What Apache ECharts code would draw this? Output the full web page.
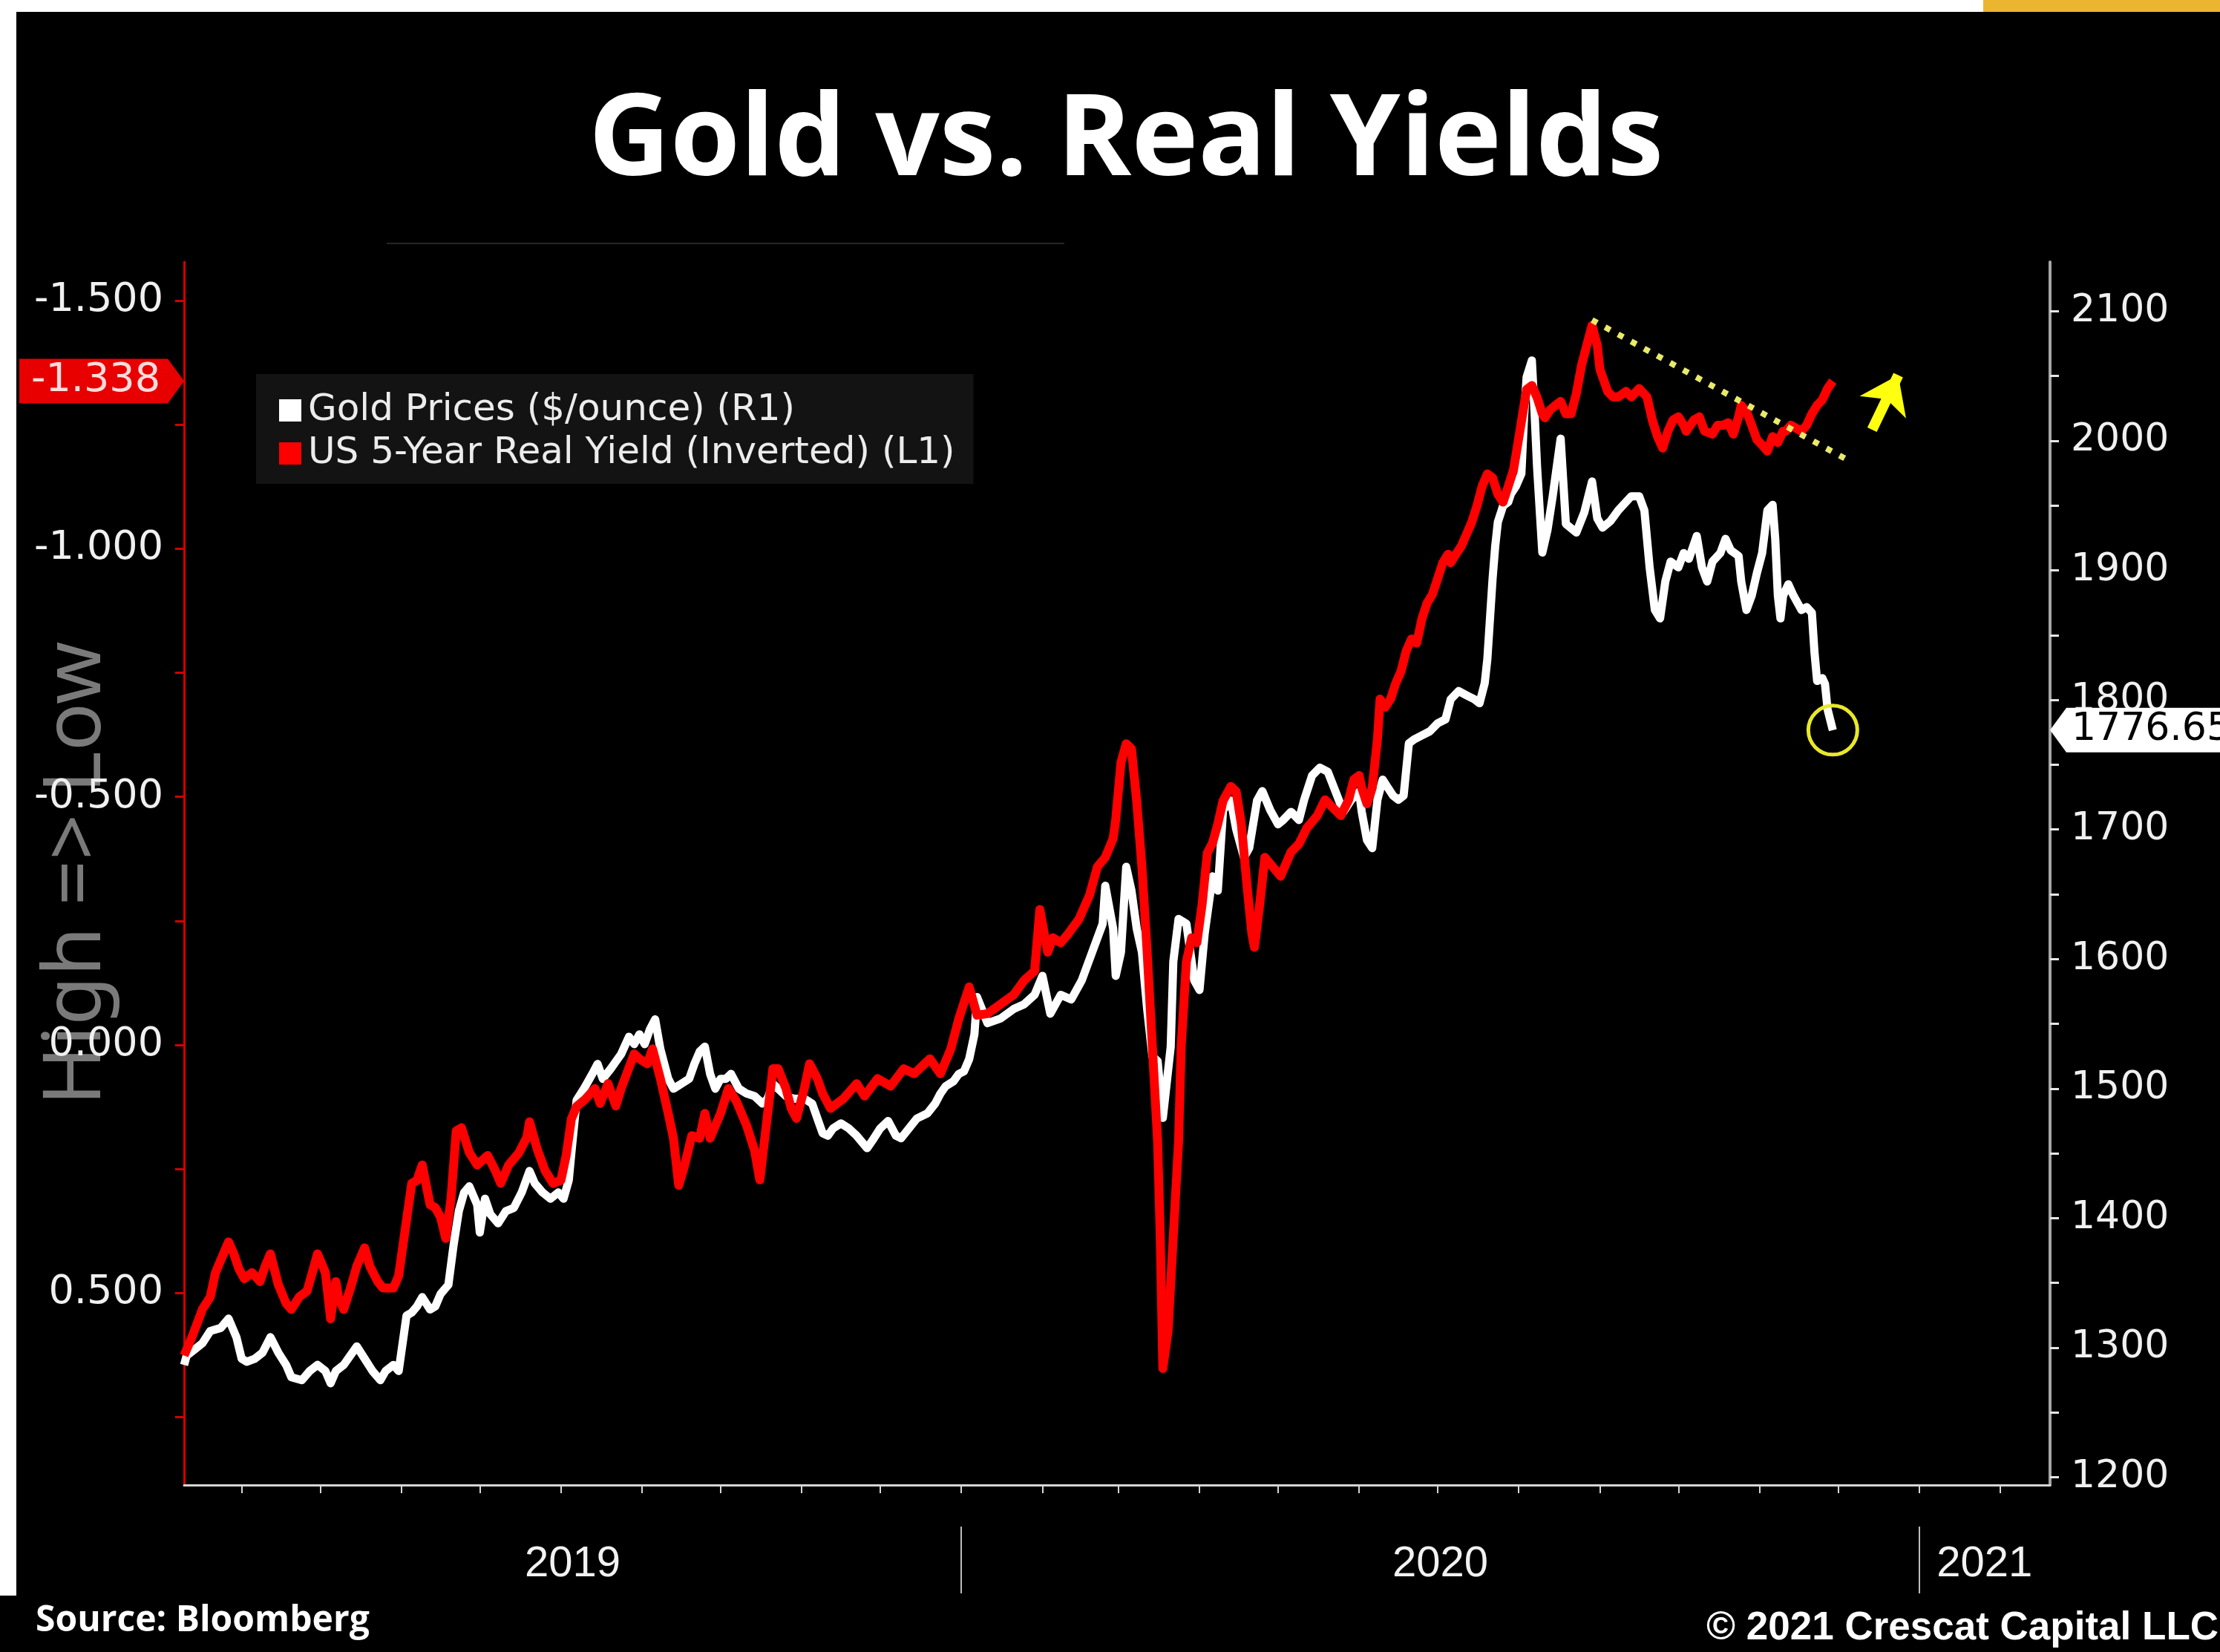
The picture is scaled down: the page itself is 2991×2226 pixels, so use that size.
<!DOCTYPE html>
<html><head><meta charset="utf-8">
<script src="https://cdn.jsdelivr.net/npm/echarts@6/dist/echarts.min.js"></script>
<style>html,body{margin:0;padding:0;background:#000;}#c{width:2991px;height:2226px;}</style>
</head><body><div id="c"></div>
<script>
// ---------------- DATA ----------------
const goldDates = [
'2019-03-10','2019-03-11','2019-03-14','2019-03-17','2019-03-20','2019-03-24','2019-03-27','2019-03-30','2019-04-01','2019-04-03',
'2019-04-06','2019-04-09','2019-04-12','2019-04-15','2019-04-18','2019-04-20','2019-04-24','2019-04-27','2019-04-30','2019-05-03',
'2019-05-05','2019-05-07','2019-05-10','2019-05-15','2019-05-18','2019-05-21','2019-05-24','2019-05-26','2019-05-29','2019-05-31',
'2019-06-03','2019-06-05','2019-06-07','2019-06-09','2019-06-12','2019-06-14','2019-06-16','2019-06-19','2019-06-21','2019-06-23',
'2019-06-25','2019-06-27','2019-06-30','2019-07-01','2019-07-03','2019-07-05','2019-07-08','2019-07-11','2019-07-14','2019-07-17',
'2019-07-20','2019-07-22','2019-07-25','2019-07-28','2019-07-31','2019-08-02','2019-08-04','2019-08-05','2019-08-07','2019-08-10',
'2019-08-13','2019-08-15','2019-08-17','2019-08-20','2019-08-24','2019-08-27','2019-08-29','2019-08-31','2019-09-02','2019-09-04',
'2019-09-06','2019-09-08','2019-09-11','2019-09-13','2019-09-16','2019-09-19','2019-09-21','2019-09-23','2019-09-25','2019-09-27',
'2019-09-29','2019-10-01','2019-10-03','2019-10-05','2019-10-08','2019-10-11','2019-10-14','2019-10-17','2019-10-19','2019-10-21',
'2019-10-23','2019-10-26','2019-10-29','2019-11-02','2019-11-05','2019-11-07','2019-11-09','2019-11-11','2019-11-13','2019-11-16',
'2019-11-19','2019-11-22','2019-11-26','2019-11-28','2019-12-01','2019-12-04','2019-12-07','2019-12-09','2019-12-12','2019-12-15',
'2019-12-19','2019-12-22','2019-12-24','2019-12-26','2019-12-29','2019-12-31','2020-01-02','2020-01-04','2020-01-06','2020-01-07',
'2020-01-11','2020-01-16','2020-01-21','2020-01-25','2020-01-29','2020-02-01','2020-02-04','2020-02-08','2020-02-12','2020-02-16',
'2020-02-20','2020-02-24','2020-02-25','2020-02-28','2020-02-29','2020-03-02','2020-03-04','2020-03-06','2020-03-08','2020-03-10',
'2020-03-12','2020-03-14','2020-03-16','2020-03-18','2020-03-19','2020-03-21','2020-03-22','2020-03-24','2020-03-27','2020-03-30',
'2020-04-01','2020-04-03','2020-04-06','2020-04-08','2020-04-10','2020-04-13','2020-04-15','2020-04-18','2020-04-20','2020-04-23',
'2020-04-25','2020-04-28','2020-05-01','2020-05-03','2020-05-06','2020-05-09','2020-05-11','2020-05-14','2020-05-17','2020-05-20',
'2020-05-23','2020-05-26','2020-05-29','2020-06-01','2020-06-02','2020-06-04','2020-06-06','2020-06-08','2020-06-10','2020-06-12',
'2020-06-14','2020-06-16','2020-06-18','2020-06-20','2020-06-22','2020-06-25','2020-06-28','2020-07-01','2020-07-04','2020-07-06',
'2020-07-09','2020-07-12','2020-07-15','2020-07-17','2020-07-19','2020-07-20','2020-07-21','2020-07-22','2020-07-23','2020-07-24',
'2020-07-26','2020-07-28','2020-07-29','2020-07-31','2020-08-02','2020-08-03','2020-08-04','2020-08-06','2020-08-07','2020-08-08',
'2020-08-10','2020-08-12','2020-08-14','2020-08-17','2020-08-19','2020-08-23','2020-08-26','2020-08-29','2020-08-31','2020-09-02',
'2020-09-05','2020-09-08','2020-09-13','2020-09-16','2020-09-18','2020-09-20','2020-09-22','2020-09-24','2020-09-26','2020-09-28',
'2020-10-01','2020-10-03','2020-10-05','2020-10-08','2020-10-10','2020-10-12','2020-10-14','2020-10-17','2020-10-19','2020-10-21',
'2020-10-24','2020-10-25','2020-10-27','2020-10-29','2020-10-31','2020-11-02','2020-11-04','2020-11-06','2020-11-07','2020-11-08',
'2020-11-09','2020-11-10','2020-11-12','2020-11-14','2020-11-17','2020-11-19','2020-11-21','2020-11-22','2020-11-23','2020-11-25',
'2020-11-26','2020-11-27','2020-11-29'];
const goldPrices = [
1286.7,1293.9,1298.6,1303.4,1312.9,1315.2,1322.4,1308.1,1291.5,1289.1,
1291.5,1296.2,1308.1,1296.2,1286.7,1277.2,1274.9,1282.0,1286.7,1282.0,
1272.5,1282.0,1286.7,1301.0,1291.5,1282.0,1274.9,1282.0,1286.7,1282.0,
1324.7,1327.1,1331.9,1339.0,1329.5,1331.9,1341.4,1348.5,1379.4,1405.5,
1419.8,1424.5,1410.3,1388.9,1415.0,1403.1,1396.0,1405.5,1407.9,1419.8,
1436.4,1426.9,1419.8,1415.0,1419.8,1415.0,1429.3,1450.7,1491.1,1500.6,
1511.3,1519.0,1507.5,1515.2,1526.6,1540.0,1534.3,1541.9,1534.3,1545.7,
1553.4,1530.4,1507.5,1499.9,1503.7,1507.5,1519.0,1528.5,1532.4,1511.3,
1499.9,1507.5,1507.5,1511.3,1499.9,1496.1,1494.2,1488.4,1492.2,1503.7,
1499.9,1494.2,1492.2,1492.2,1488.4,1476.9,1465.5,1463.6,1469.3,1473.1,
1469.3,1463.6,1454.0,1459.8,1469.3,1475.0,1463.6,1461.7,1469.3,1476.9,
1480.8,1488.4,1496.1,1501.8,1505.6,1511.3,1513.3,1522.8,1541.9,1570.6,
1550.5,1554.1,1561.4,1565.1,1572.4,1587.0,1557.8,1572.4,1568.8,1583.4,
1605.3,1627.2,1656.5,1623.6,1587.0,1605.3,1671.1,1652.8,1623.6,1605.3,
1561.4,1524.9,1521.2,1477.4,1495.7,1532.2,1598.0,1630.9,1627.2,1583.4,
1576.1,1619.9,1663.8,1652.8,1715.0,1722.3,1700.3,1678.4,1685.7,1722.3,
1729.6,1715.0,1704.0,1707.3,1713.6,1707.3,1722.9,1741.5,1747.7,1744.6,
1729.1,1713.6,1722.9,1729.1,1713.6,1691.8,1685.6,1722.9,1738.4,1732.2,
1726.0,1722.9,1726.0,1766.4,1769.5,1772.6,1775.7,1781.9,1785.0,1800.5,
1806.8,1803.6,1800.5,1797.4,1813.0,1831.6,1862.7,1893.7,1918.6,1937.2,
1949.7,1952.8,1959.0,1965.2,1974.5,2018.0,2049.1,2062.0,2023.5,1979.6,
1913.8,1931.4,1957.7,2001.6,1935.8,1929.2,1944.5,1968.6,1940.1,1933.0,
1937.9,1946.2,1957.2,1957.2,1946.2,1902.3,1869.4,1862.9,1891.4,1906.7,
1902.3,1913.3,1908.9,1926.5,1902.3,1891.4,1906.7,1913.3,1924.3,1915.5,
1911.1,1891.4,1869.4,1880.4,1898.0,1913.3,1946.2,1950.6,1924.3,1880.4,
1862.9,1880.4,1889.2,1880.4,1869.4,1871.6,1867.2,1836.5,1814.6,1816.8,
1812.4,1792.7,1776.65];

const yieldDates = [
'2019-03-10','2019-03-13','2019-03-17','2019-03-20','2019-03-22','2019-03-24','2019-03-27','2019-03-29','2019-03-31','2019-04-02',
'2019-04-05','2019-04-08','2019-04-10','2019-04-12','2019-04-15','2019-04-18','2019-04-20','2019-04-23','2019-04-26','2019-04-28',
'2019-04-30','2019-05-03','2019-05-05','2019-05-07','2019-05-08','2019-05-10','2019-05-13','2019-05-15','2019-05-18','2019-05-20',
'2019-05-23','2019-05-25','2019-05-29','2019-05-31','2019-06-03','2019-06-05','2019-06-07','2019-06-09','2019-06-12','2019-06-14',
'2019-06-16','2019-06-18','2019-06-20','2019-06-22','2019-06-24','2019-06-27','2019-06-30','2019-07-04','2019-07-07','2019-07-09',
'2019-07-12','2019-07-16','2019-07-19','2019-07-20','2019-07-23','2019-07-26','2019-07-29','2019-08-01','2019-08-03','2019-08-05',
'2019-08-07','2019-08-10','2019-08-14','2019-08-16','2019-08-19','2019-08-22','2019-08-24','2019-08-29','2019-08-31','2019-09-03',
'2019-09-05','2019-09-08','2019-09-11','2019-09-13','2019-09-15','2019-09-17','2019-09-20','2019-09-23','2019-09-25','2019-09-27',
'2019-10-01','2019-10-04','2019-10-07','2019-10-11','2019-10-14','2019-10-16','2019-10-19','2019-10-21','2019-10-23','2019-10-26',
'2019-10-28','2019-10-30','2019-11-02','2019-11-04','2019-11-07','2019-11-09','2019-11-12','2019-11-17','2019-11-22','2019-11-25',
'2019-11-30','2019-12-05','2019-12-10','2019-12-14','2019-12-20','2019-12-24','2019-12-28','2019-12-31','2020-01-04','2020-01-07',
'2020-01-11','2020-01-16','2020-01-21','2020-01-25','2020-01-29','2020-01-31','2020-02-03','2020-02-05','2020-02-08','2020-02-11',
'2020-02-15','2020-02-19','2020-02-22','2020-02-25','2020-02-28','2020-02-29','2020-03-02','2020-03-04','2020-03-06','2020-03-08',
'2020-03-10','2020-03-12','2020-03-14','2020-03-16','2020-03-17','2020-03-18','2020-03-20','2020-03-22','2020-03-24','2020-03-25',
'2020-03-27','2020-03-29','2020-03-31','2020-04-02','2020-04-04','2020-04-06','2020-04-08','2020-04-10','2020-04-13','2020-04-15',
'2020-04-17','2020-04-19','2020-04-21','2020-04-22','2020-04-24','2020-04-26','2020-04-29','2020-05-02','2020-05-06','2020-05-09',
'2020-05-12','2020-05-16','2020-05-19','2020-05-22','2020-05-25','2020-05-28','2020-05-30','2020-06-01','2020-06-02','2020-06-04',
'2020-06-06','2020-06-08','2020-06-09','2020-06-11','2020-06-13','2020-06-15','2020-06-17','2020-06-19','2020-06-21','2020-06-23',
'2020-06-25','2020-06-27','2020-06-29','2020-07-01','2020-07-03','2020-07-05','2020-07-06','2020-07-08','2020-07-10','2020-07-12',
'2020-07-14','2020-07-16','2020-07-18','2020-07-20','2020-07-22','2020-07-24','2020-07-26','2020-07-28','2020-07-30','2020-07-31',
'2020-08-02','2020-08-04','2020-08-06','2020-08-08','2020-08-10','2020-08-11','2020-08-13','2020-08-15','2020-08-17','2020-08-19',
'2020-08-21','2020-08-23','2020-08-25','2020-08-27','2020-08-29','2020-08-31','2020-09-01','2020-09-04','2020-09-06','2020-09-08',
'2020-09-11','2020-09-13','2020-09-16','2020-09-17','2020-09-19','2020-09-21','2020-09-23','2020-09-25','2020-09-27','2020-09-29',
'2020-10-01','2020-10-03','2020-10-04','2020-10-07','2020-10-09','2020-10-11','2020-10-14','2020-10-16','2020-10-18','2020-10-20',
'2020-10-22','2020-10-24','2020-10-25','2020-10-27','2020-10-29','2020-10-31','2020-11-02','2020-11-04','2020-11-06','2020-11-08',
'2020-11-10','2020-11-11','2020-11-13','2020-11-15','2020-11-17','2020-11-19','2020-11-21','2020-11-23','2020-11-25','2020-11-27',
'2020-11-29'];
const realYields = [
0.626,0.589,0.533,0.508,0.459,0.434,0.397,0.421,0.452,0.471,
0.459,0.477,0.446,0.421,0.483,0.521,0.533,0.508,0.496,0.459,
0.421,0.459,0.552,0.477,0.508,0.533,0.483,0.446,0.409,0.446,
0.477,0.490,0.490,0.465,0.353,0.279,0.273,0.242,0.322,0.328,
0.347,0.390,0.310,0.173,0.167,0.217,0.242,0.223,0.254,0.279,
0.242,0.217,0.186,0.155,0.211,0.254,0.279,0.273,0.223,0.149,
0.124,0.111,0.088,0.118,0.078,0.123,0.088,0.018,0.028,0.038,
0.008,0.068,0.138,0.188,0.283,0.248,0.183,0.188,0.138,0.188,
0.138,0.088,0.113,0.163,0.213,0.272,0.138,0.048,0.048,0.088,
0.128,0.148,0.088,0.038,0.068,0.098,0.128,0.108,0.078,0.103,
0.068,0.083,0.048,0.058,0.028,0.058,0.008,-0.052,-0.117,-0.060,
-0.063,-0.082,-0.101,-0.130,-0.149,-0.273,-0.187,-0.216,-0.206,-0.225,
-0.254,-0.302,-0.359,-0.378,-0.416,-0.454,-0.569,-0.607,-0.597,-0.492,
-0.359,-0.187,0.004,0.195,0.385,0.652,0.576,0.385,0.195,0.004,
-0.168,-0.216,-0.206,-0.283,-0.387,-0.407,-0.445,-0.492,-0.521,-0.511,
-0.445,-0.330,-0.225,-0.197,-0.283,-0.378,-0.359,-0.340,-0.389,-0.405,
-0.437,-0.462,-0.494,-0.478,-0.462,-0.494,-0.535,-0.543,-0.518,-0.486,
-0.518,-0.616,-0.697,-0.681,-0.697,-0.729,-0.753,-0.794,-0.818,-0.810,
-0.859,-0.891,-0.908,-0.940,-0.972,-0.989,-0.972,-0.989,-1.005,-1.029,
-1.053,-1.086,-1.126,-1.151,-1.143,-1.110,-1.094,-1.126,-1.159,-1.191,
-1.256,-1.321,-1.329,-1.305,-1.272,-1.264,-1.280,-1.289,-1.297,-1.272,
-1.272,-1.313,-1.370,-1.410,-1.450,-1.410,-1.362,-1.317,-1.306,-1.306,
-1.317,-1.306,-1.323,-1.317,-1.306,-1.260,-1.226,-1.203,-1.237,-1.260,
-1.266,-1.249,-1.237,-1.260,-1.266,-1.237,-1.231,-1.249,-1.249,-1.254,
-1.231,-1.266,-1.289,-1.277,-1.249,-1.220,-1.209,-1.197,-1.226,-1.214,
-1.237,-1.237,-1.249,-1.243,-1.237,-1.249,-1.272,-1.289,-1.300,-1.323,
-1.338];

const seriesNames = ['Gold Prices ($/ounce) (R1)', 'US 5-Year Real Yield (Inverted) (L1)'];
const leftTickLabels = [-1.5, -1.0, -0.5, 0.0, 0.5];
const rightTickLabels = [1200, 1300, 1400, 1500, 1600, 1700, 1800, 1900, 2000, 2100];
const yearLabels = ['2019', '2020', '2021'];
const yearStarts = ['2020-01-01', '2021-01-01'];
const xRange = ['2019-03-10', '2021-02-20'];
const leftRange = [-1.578, 0.887];
const rightRange = [1194, 2138];
const trendLine = [['2020-08-29', -1.461], ['2020-12-05', -1.178]];
const arrowLine = [['2020-12-14', -1.240], ['2020-12-24', -1.350]];

// ---------------- CHART ----------------
const T = s => new Date(s + 'T00:00:00').getTime();
const xMin = T(xRange[0]), xMax = T(xRange[1]);
const monthTicks = [];
for (let d = new Date(2019, 3, 1); d.getTime() <= xMax; d.setMonth(d.getMonth() + 1)) monthTicks.push(d.getTime());
const yearBounds = [xMin].concat(yearStarts.map(T), [xMax]);
const yearMid = yearLabels.map((y, i) => (yearBounds[i] + yearBounds[i + 1]) / 2);
const leftMinor = [];
for (let v = leftTickLabels[0]; v <= leftRange[1]; v += 0.25) leftMinor.push(+v.toFixed(2));
const rightMinor = [];
for (let v = rightTickLabels[0]; v <= rightRange[1]; v += 50) rightMinor.push(v);

const goldData = goldDates.map((d, i) => [T(d), goldPrices[i]]);
const yieldData = yieldDates.map((d, i) => [T(d), realYields[i]]);
const lastGold = goldPrices[goldPrices.length - 1];
const lastGoldT = T(goldDates[goldDates.length - 1]);
const lastYield = realYields[realYields.length - 1];

const AXF = 'DejaVu Sans';
const chart = echarts.init(document.getElementById('c'), null, {renderer: 'canvas', width: 2991, height: 2226});
chart.setOption({
  backgroundColor: '#000',
  animation: false,
  grid: {left: 248, right: 229, top: 353, bottom: 225, containLabel: false, outerBoundsMode: 'none'},
  legend: {
    data: seriesNames, left: 345, top: 504, orient: 'vertical', icon: 'rect',
    itemWidth: 30, itemHeight: 30, itemGap: 4, selectedMode: false,
    backgroundColor: '#131313', padding: [22, 25, 14, 31],
    textStyle: {color: '#ececec', fontSize: 50, fontFamily: AXF, lineHeight: 54, padding: [0, 0, 0, 4]}
  },
  xAxis: [{
    type: 'value', min: xMin, max: xMax, position: 'bottom', scale: true,
    axisLine: {show: true, onZero: false, lineStyle: {color: '#d6d6d6', width: 3}},
    axisTick: {show: true, customValues: monthTicks, length: 11, lineStyle: {color: '#d6d6d6', width: 2}},
    axisLabel: {show: false}, splitLine: {show: false}
  }, {
    type: 'value', min: xMin, max: xMax, position: 'bottom', offset: 56, scale: true,
    axisLine: {show: false, onZero: false},
    axisTick: {show: true, customValues: yearStarts.map(T), length: 90, lineStyle: {color: '#bdbdbd', width: 2}},
    axisLabel: {show: true, customValues: yearMid, margin: 22, color: '#f2f2f2', fontSize: 58, fontFamily: 'Liberation Sans',
      formatter: v => { const i = yearMid.findIndex(m => Math.abs(m - v) < 1000); return i >= 0 ? yearLabels[i] : ''; }},
    splitLine: {show: false}
  }],
  yAxis: [{
    type: 'value', inverse: true, min: leftRange[0], max: leftRange[1], position: 'left',
    axisLine: {show: true, onZero: false, lineStyle: {color: '#d40000', width: 3}},
    axisTick: {show: true, customValues: leftMinor, length: 12, lineStyle: {color: '#d40000', width: 3}},
    axisLabel: {show: true, customValues: leftTickLabels, margin: 28, color: '#f0f0f0', fontSize: 54, fontFamily: AXF,
      formatter: v => (Math.abs(v) < 1e-9 ? 0 : v).toFixed(3)},
    splitLine: {show: false},
    name: 'High => Low', nameLocation: 'middle', nameRotate: 90, nameGap: 90, nameMoveOverlap: false,
    nameTextStyle: {color: '#7a7a7a', fontSize: 108, fontFamily: 'Noto Sans'}
  }, {
    type: 'value', min: rightRange[0], max: rightRange[1], position: 'right',
    axisLine: {show: true, onZero: false, lineStyle: {color: '#a6a6a6', width: 4}},
    axisTick: {show: true, customValues: rightMinor, length: 12, lineStyle: {color: '#e6e6e6', width: 3}},
    axisLabel: {show: true, customValues: rightTickLabels, margin: 28, color: '#f0f0f0', fontSize: 52, fontFamily: AXF,
      formatter: v => String(v)},
    splitLine: {show: false}
  }],
  series: [{
    name: seriesNames[0], type: 'line', xAxisIndex: 0, yAxisIndex: 1, data: goldData,
    showSymbol: false, symbol: 'none', clip: false, z: 3,
    lineStyle: {color: '#ffffff', width: 11, join: 'round'}, itemStyle: {color: '#ffffff'},
    emphasis: {disabled: true},
    markPoint: {
      silent: true, animation: false,
      data: [{
        coord: [lastGoldT, lastGold], symbol: 'circle', symbolSize: 66,
        itemStyle: {color: 'rgba(0,0,0,0)', borderColor: '#e8e82a', borderWidth: 5},
        label: {show: false}
      }, {
        coord: [xMax, lastGold], symbol: 'path://M22,0 L300,0 L300,60 L22,60 L0,30 Z',
        symbolSize: [300, 60], symbolKeepAspect: false, symbolOffset: [150, 0],
        itemStyle: {color: '#ffffff'},
        label: {show: true, position: 'insideLeft', distance: 29, formatter: String(lastGold),
          color: '#000', fontSize: 52, fontFamily: AXF}
      }]
    }
  }, {
    name: seriesNames[1], type: 'line', xAxisIndex: 0, yAxisIndex: 0, data: yieldData,
    showSymbol: false, symbol: 'none', clip: false, z: 4,
    lineStyle: {color: '#ff0000', width: 12, join: 'round'}, itemStyle: {color: '#ff0000'},
    emphasis: {disabled: true},
    markPoint: {
      silent: true, animation: false,
      data: [{
        coord: [xMin, lastYield], symbol: 'path://M0,0 L200,0 L222,30 L200,60 L0,60 Z',
        symbolSize: [222, 60], symbolKeepAspect: false, symbolOffset: [-111, 0],
        itemStyle: {color: '#e80000'},
        label: {show: true, position: 'inside', offset: [-8, 0], formatter: lastYield.toFixed(3),
          color: '#ffdcdc', fontSize: 54, fontFamily: AXF}
      }]
    },
    markLine: {
      silent: true, animation: false, symbol: ['none', 'none'],
      label: {show: false}, emphasis: {disabled: true},
      data: [
        [{coord: [T(trendLine[0][0]), trendLine[0][1]], lineStyle: {color: '#e9e96a', width: 8, type: [8, 12], cap: 'butt'}},
         {coord: [T(trendLine[1][0]), trendLine[1][1]]}],
        [{coord: [T(arrowLine[0][0]), arrowLine[0][1]], symbol: 'none', lineStyle: {color: '#ffff10', width: 14, type: 'solid'}},
         {coord: [T(arrowLine[1][0]), arrowLine[1][1]], symbol: 'arrow', symbolSize: [52, 48]}]
      ]
    }
  }],
  graphic: [
    {type: 'rect', left: 0, top: 0, shape: {width: 2672, height: 16}, style: {fill: '#ffffff'}, silent: true},
    {type: 'rect', left: 2672, top: 0, shape: {width: 319, height: 16}, style: {fill: '#ebb52f'}, silent: true},
    {type: 'rect', left: 0, top: 0, shape: {width: 22, height: 2150}, style: {fill: '#ffffff'}, silent: true},
    {type: 'line', shape: {x1: 521, y1: 328, x2: 1434, y2: 328}, style: {stroke: '#262626', lineWidth: 2}, silent: true},
    {type: 'text', x: 1517, y: 193, silent: true,
     style: {text: 'Gold vs. Real Yields', fill: '#ffffff', fontSize: 152, fontWeight: 'bold', fontFamily: 'Open Sans',
       textAlign: 'center', textVerticalAlign: 'middle'}},
    {type: 'text', x: 48, y: 2184, silent: true,
     style: {text: 'Source: Bloomberg', fill: '#ffffff', fontSize: 48, fontWeight: 'bold', fontFamily: 'Open Sans',
       textAlign: 'left', textVerticalAlign: 'middle'}},
    {type: 'text', x: 2299, y: 2194, silent: true,
     style: {text: '\u00A9 2021 Crescat Capital LLC', fill: '#ffffff', fontSize: 53, fontWeight: 'bold', fontFamily: 'Liberation Sans',
       textAlign: 'left', textVerticalAlign: 'middle'}}
  ]
});
</script>
</body></html>
